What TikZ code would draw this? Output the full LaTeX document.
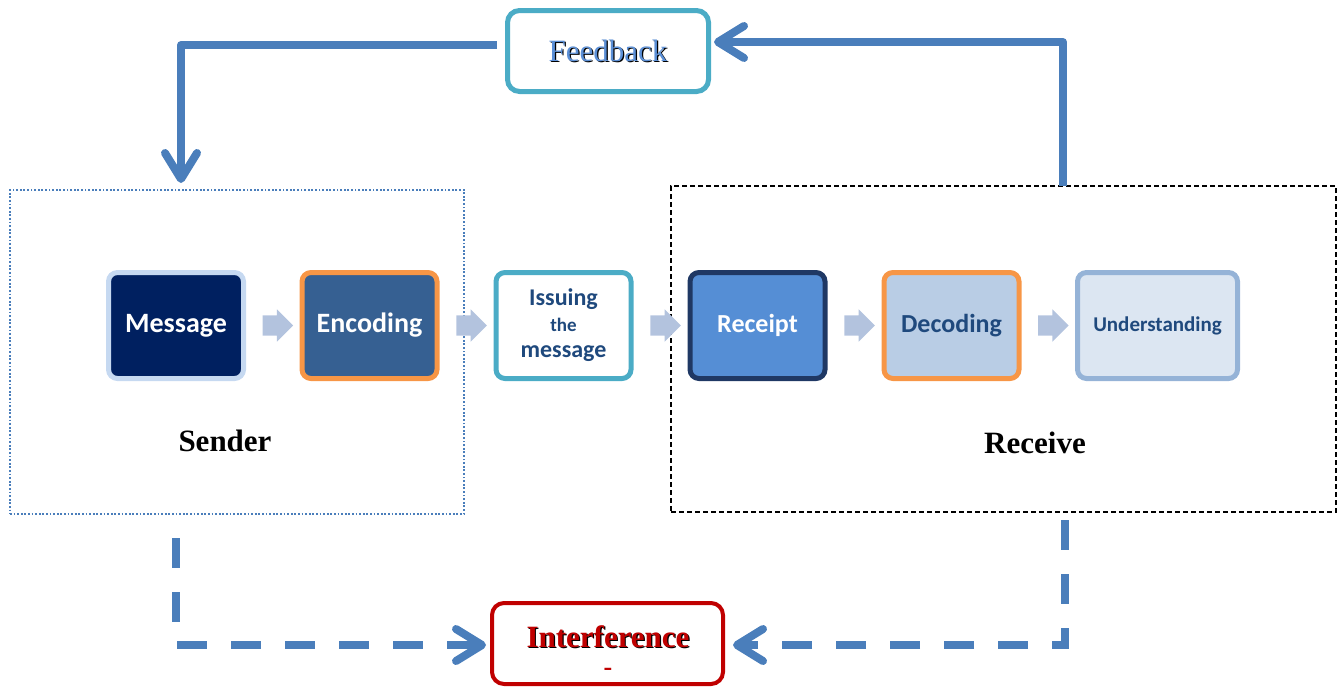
\documentclass[tikz,border=0pt]{standalone}
\usepackage{fontspec}
\setmainfont{Liberation Serif}
\newfontfamily\calib{Carlito}
\usetikzlibrary{arrows.meta,shapes.arrows,calc}
\definecolor{fbblue}{HTML}{4A7EBB}
\definecolor{teal}{HTML}{4BACC6}
\definecolor{navy}{HTML}{002060}
\definecolor{midblue}{HTML}{366092}
\definecolor{orng}{HTML}{F79646}
\definecolor{rcpt}{HTML}{558ED5}
\definecolor{dkborder}{HTML}{1F3864}
\definecolor{decfill}{HTML}{B9CDE5}
\definecolor{undfill}{HTML}{DCE6F2}
\definecolor{undborder}{HTML}{95B3D7}
\definecolor{msgborder}{HTML}{C6D9F1}
\definecolor{txtblue}{HTML}{1F497D}
\definecolor{blkarrow}{HTML}{B3C3DE}
\definecolor{redc}{HTML}{C00000}
\definecolor{fbtext}{HTML}{5B8FD6}
\newcommand{\shd}[2]{\makebox[0pt][l]{\hspace{1.2pt}\raisebox{-1.2pt}{\color{black}#2}}{\color{#1}#2}}
\begin{document}
\begin{tikzpicture}[x=1pt,y=-1pt,
  stepbox/.style={draw,rounded corners=9pt,line width=5pt,minimum width=135pt,minimum height=106pt,inner sep=0pt,font=\calib\bfseries,align=center},
  blk/.style={single arrow,fill=blkarrow,draw=none,minimum height=29pt,minimum width=32pt,single arrow head extend=6pt,inner sep=10pt,shape border rotate=0},
  fb/.style={draw=fbblue,line width=8pt,line join=round,-{Straight Barb[length=26pt,width=32pt,round]}},
  nz/.style={draw=fbblue,line width=8pt,dash pattern=on 30pt off 24pt,-{Straight Barb[length=26pt,width=32pt,round]}},
  big/.style={font=\fontsize{31}{36}\selectfont\bfseries}
]
\useasboundingbox (0,0) rectangle (1340,688);
% group boxes
\node[draw=fbblue,line width=1.5pt,dash pattern=on 1.8pt off 1.8pt,minimum width=454pt,minimum height=324pt,inner sep=0pt] (sender) at (237,352) {};
\node[draw=black,line width=1.5pt,dash pattern=on 5pt off 3pt,minimum width=665pt,minimum height=326pt,inner sep=0pt] (receive) at (1003.5,349) {};
\node[big] (sendert) at (225,441) {Sender};
\node[big] (receivet) at (1035,443) {Receive};
% step boxes
\node[stepbox,fill=navy,draw=msgborder,text=white,font=\calib\bfseries\fontsize{28}{30}\selectfont] (msg) at (176,325.5) {Message};
\node[stepbox,fill=midblue,draw=orng,text=white,font=\calib\bfseries\fontsize{28}{30}\selectfont] (enc) at (369.5,325.5) {Encoding};
\node[stepbox,fill=white,draw=teal,text=txtblue,font=\calib\bfseries\fontsize{24}{27}\selectfont] (iss) at (563.5,325.5) {Issuing\\[-1pt]{\fontsize{19}{20}\selectfont the}\\[-1pt]message};
\node[stepbox,fill=rcpt,draw=dkborder,text=white,font=\calib\bfseries\fontsize{26}{28}\selectfont] (rec) at (757.5,325.5) {Receipt};
\node[stepbox,fill=decfill,draw=orng,text=txtblue,font=\calib\bfseries\fontsize{26}{28}\selectfont] (dec) at (951.5,325.5) {Decoding};
\node[stepbox,fill=undfill,draw=undborder,text=txtblue,minimum width=160pt,font=\calib\bfseries\fontsize{21}{24}\selectfont] (und) at (1157.5,325.5) {Understanding};
% block arrows
\node[blk] (a1) at ($(msg.east)!0.5!(enc.west)$) {};
\node[blk] (a2) at ($(enc.east)!0.5!(iss.west)$) {};
\node[blk] (a3) at ($(iss.east)!0.5!(rec.west)$) {};
\node[blk] (a4) at ($(rec.east)!0.5!(dec.west)$) {};
\node[blk] (a5) at ($(dec.east)!0.5!(und.west)$) {};
% feedback
\node[draw=teal,line width=5pt,rounded corners=12pt,minimum width=201pt,minimum height=81pt,inner sep=0pt,fill=white] (feedback) at (608,51) {\fontsize{31}{34}\selectfont\shd{fbtext}{Feedback}};
\coordinate (fbL) at (497,45);
\coordinate (sIn) at (181,183);
\coordinate (rOut) at (1063,186);
\coordinate (fbR) at (714,42);
\draw[fb] (fbL) -| (sIn);
\draw[fb] (rOut) |- (fbR);
% interference
\node[draw=redc,line width=4pt,rounded corners=12pt,minimum width=231pt,minimum height=81pt,inner sep=0pt,fill=white] (interf) at (607.5,643.5) {};
\node[font=\fontsize{31}{34}\selectfont\bfseries,inner sep=0pt] (interft) at (608,637) {\shd{redc}{Interference}};
\node[font=\fontsize{26}{26}\selectfont\bfseries,text=redc,inner sep=0pt] (dash) at (608,672) {-};
\coordinate (sOut) at (176,538);
\coordinate (iL) at (486,645);
\coordinate (rOut2) at (1065,520);
\coordinate (iR) at (733,645);
\draw[nz] (sOut) |- (iL);
\draw[nz] (rOut2) |- (iR);
\end{tikzpicture}
\end{document}
